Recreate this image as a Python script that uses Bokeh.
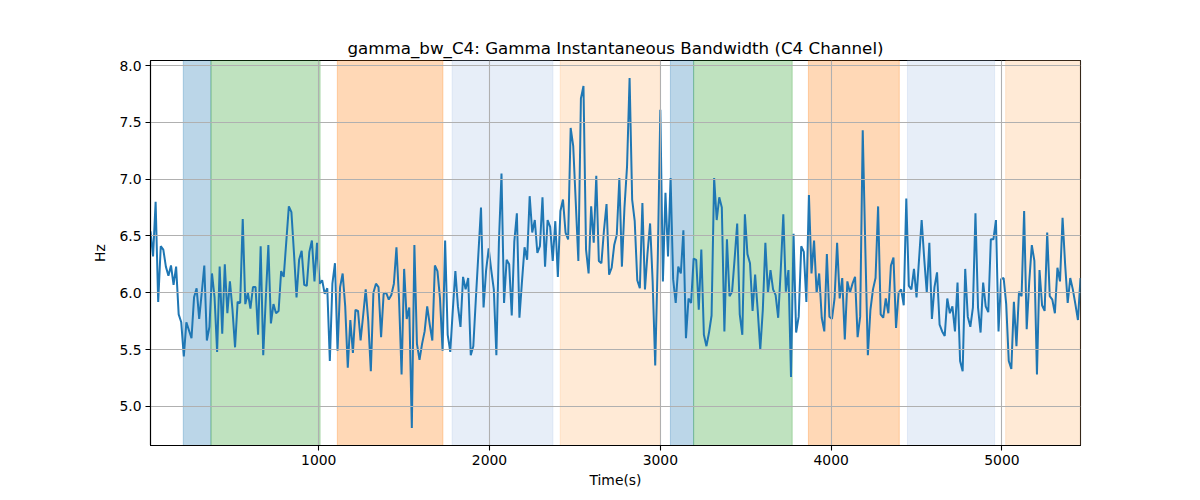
import numpy as np
from bokeh.plotting import figure
from bokeh.models import BoxAnnotation, FixedTicker, Range1d, ColumnDataSource, NumeralTickFormatter
from bokeh.embed import file_html
from bokeh.resources import INLINE

# ---- data -------------------------------------------------------------
T_FIRST = 15      # first sample time (s)
T_STEP = 15       # sampling interval (s)

bandwidth_hz = [
    6.54, 6.32, 6.80, 5.92, 6.41, 6.38, 6.23, 6.15, 6.24, 6.07, 6.23, 5.81, 5.74, 5.44, 5.74, 5.67,
    5.60, 5.96, 6.04, 5.77, 6.00, 6.24, 5.58, 5.70, 6.17, 5.96, 5.48, 6.23, 5.64, 6.25, 5.82, 6.10,
    5.85, 5.52, 5.92, 5.91, 6.65, 5.90, 6.00, 5.86, 6.05,
    6.05, 5.63, 6.41, 5.45, 5.95, 6.42, 5.73, 5.90, 5.82, 5.84, 6.19, 6.14, 6.45, 6.76, 6.71, 6.35,
    5.96, 6.29, 6.37, 6.07, 6.06, 6.36, 6.46, 6.10, 6.44, 6.08, 6.11, 5.99, 6.04, 5.40, 6.08, 6.26,
    5.49, 6.05, 6.17, 5.88, 5.34, 5.76, 5.47, 5.85,
    5.84, 5.58, 5.80, 6.03, 5.75, 5.31, 6.00, 6.08, 6.05, 5.61, 5.99, 6.00, 5.94, 5.98, 6.08, 6.40,
    5.95, 5.28, 6.21, 5.77, 5.87, 4.81, 6.42, 5.55, 5.41, 5.55, 5.66, 5.88, 5.72, 5.58, 6.24, 6.19,
    5.95, 5.49, 6.46, 5.63, 5.48, 5.85, 6.19, 5.88,
    5.70, 6.14, 6.03, 6.13, 5.45, 5.53, 5.95, 6.35, 6.75, 5.87, 6.20, 6.39, 6.20, 6.03, 5.45, 6.45,
    7.05, 5.91, 6.29, 6.25, 5.80, 6.45, 6.70, 5.78, 6.10, 6.40, 6.29, 6.85, 6.53, 6.64, 6.35, 6.41,
    6.84, 6.23, 6.64, 6.58, 6.28, 6.63, 6.14, 6.72,
    6.82, 6.53, 6.47, 7.45, 7.29, 6.79, 6.28, 7.71, 7.82, 6.38, 6.17, 6.76, 6.44, 7.03, 6.28, 6.26,
    6.55, 6.78, 6.16, 6.22, 6.42, 6.51, 7.01, 6.23, 6.75, 7.11, 7.89, 6.82, 6.63, 6.11, 6.04, 6.79,
    6.03, 6.35, 6.61, 6.10, 5.36, 6.30, 7.61, 6.10, 6.88,
    6.32, 7.01, 6.12, 5.91, 6.23, 6.17, 6.55, 5.60, 5.95, 5.91, 6.30, 6.29, 5.85, 6.38, 5.63, 5.53,
    5.65, 5.80, 7.01, 6.64, 6.84, 6.75, 5.66, 6.47, 5.97, 6.01, 6.30, 6.61, 5.81, 5.63, 6.69, 6.34,
    6.26, 5.84, 6.16, 5.85, 5.50, 5.85, 6.44, 6.00,
    6.20, 6.03, 5.98, 5.78, 6.20, 6.69, 6.01, 6.20, 5.26, 6.52, 5.65, 5.79, 6.41, 6.36, 5.92, 6.86,
    6.17, 6.46, 6.00, 6.17, 5.78, 5.66, 6.34, 5.79, 5.77, 5.95, 6.44, 5.95, 6.13, 5.59, 6.10, 6.00,
    6.08, 6.14, 5.61, 5.79, 7.43, 6.40, 5.45, 5.85,
    6.03, 6.13, 6.76, 5.81, 5.78, 5.95, 5.82, 6.24, 6.31, 5.69, 6.00, 6.03, 5.89, 6.83, 6.06, 6.03,
    6.21, 5.96, 6.30, 6.64, 6.30, 6.00, 6.44, 5.77, 6.05, 6.18, 5.72, 5.66, 5.62, 5.95, 5.82, 5.88,
    5.66, 6.09, 5.40, 5.31, 6.21, 5.79, 5.70, 5.87,
    6.70, 5.87, 5.65, 6.09, 5.88, 5.83, 6.47, 6.47, 6.64, 5.66, 6.12, 6.13, 5.90, 5.40, 5.33, 5.92,
    5.53, 6.01, 5.97, 6.72, 5.68, 6.10, 6.42, 6.28, 5.28, 6.20, 5.89, 5.84, 6.53, 5.97, 5.94, 5.82,
    6.22, 6.10, 6.66, 6.25, 5.91, 6.13, 6.03, 5.90, 5.76, 6.13,
]
time_s = [T_FIRST + T_STEP * i for i in range(len(bandwidth_hz))]

span_start = [207, 369, 1109, 1781, 2414, 3059, 3195, 3867, 4447, 5022]
span_end = [369, 1008, 1727, 2371, 3000, 3195, 3772, 4399, 4957, 5460]
span_color = ["#1f77b4", "#2ca02c", "#ff7f0e", "#aec7e8", "#ffbb78",
              "#1f77b4", "#2ca02c", "#ff7f0e", "#aec7e8", "#ffbb78"]

x_ticks = [1000, 2000, 3000, 4000, 5000]
y_ticks = [5.0, 5.5, 6.0, 6.5, 7.0, 7.5, 8.0]

TITLE = "gamma_bw_C4: Gamma Instantaneous Bandwidth (C4 Channel)"
X_LABEL = "Time(s)"
Y_LABEL = "Hz"

# ---- figure -----------------------------------------------------------
ymin, ymax = min(bandwidth_hz), max(bandwidth_hz)
pad = 0.05 * (ymax - ymin)

p = figure(width=1200, height=500, output_backend="svg", toolbar_location=None,
           x_range=Range1d(time_s[0], time_s[-1]),
           y_range=Range1d(ymin - pad, ymax + pad),
           min_border_left=150, min_border_right=120,
           min_border_top=60, min_border_bottom=55)

FONT = "DejaVu Sans"
p.title.text = TITLE
p.title.align = "center"
p.title.text_font = FONT
p.title.text_font_size = "16.7px"
p.title.text_font_style = "normal"
p.title.text_color = "black"
p.title.standoff = 6

p.outline_line_color = "black"
p.outline_line_width = 1.1
p.outline_line_alpha = 1.0

for ax in (p.xaxis[0], p.yaxis[0]):
    ax.axis_label_text_font = FONT
    ax.axis_label_text_font_size = "13.9px"
    ax.axis_label_text_font_style = "normal"
    ax.axis_label_text_color = "black"
    ax.major_label_text_font = FONT
    ax.major_label_text_font_size = "13.9px"
    ax.major_label_text_color = "black"
    ax.axis_line_color = "black"
    ax.axis_line_width = 1.1
    ax.major_tick_line_color = "black"
    ax.major_tick_line_width = 1.1
    ax.major_tick_out = 5
    ax.major_tick_in = 0
    ax.minor_tick_line_color = None
    ax.major_label_standoff = 4

p.xaxis.axis_label = X_LABEL
p.yaxis.axis_label = Y_LABEL
p.xaxis.ticker = FixedTicker(ticks=x_ticks)
p.yaxis.ticker = FixedTicker(ticks=y_ticks)
p.yaxis.formatter = NumeralTickFormatter(format="0.0")
p.xaxis.axis_label_standoff = 4
p.yaxis.axis_label_standoff = 8

for g in (p.xgrid[0], p.ygrid[0]):
    g.grid_line_color = "#b0b0b0"
    g.grid_line_width = 1.1
    g.level = "glyph"
p.xgrid.ticker = FixedTicker(ticks=x_ticks)
p.ygrid.ticker = FixedTicker(ticks=y_ticks)

for s, e, c in zip(span_start, span_end, span_color):
    p.add_layout(BoxAnnotation(left=s, right=e, fill_color=c, fill_alpha=0.3,
                               line_color=c, line_alpha=0.3, line_width=1,
                               level="underlay"))

src = ColumnDataSource(dict(t=time_s, v=bandwidth_hz))
p.line("t", "v", source=src, line_color="#1f77b4", line_width=2)

open("out.html", "w").write(file_html(p, INLINE))
